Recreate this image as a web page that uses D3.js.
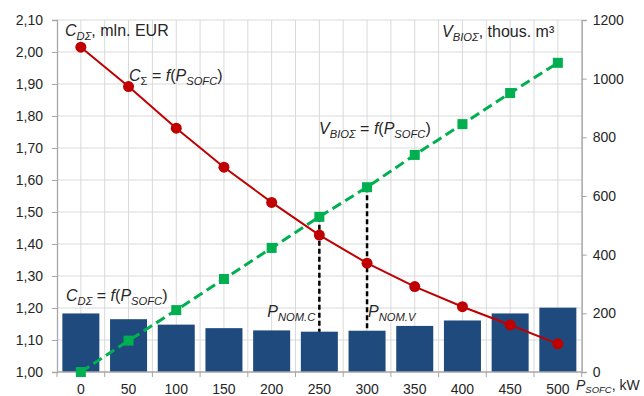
<!DOCTYPE html>
<html>
<head>
<meta charset="utf-8">
<script src="https://cdn.jsdelivr.net/npm/d3@7"></script>
<style>
  html, body { margin: 0; padding: 0; background: #fff; }
  svg { display: block; font-family: "Liberation Sans", Arial, sans-serif; }
</style>
</head>
<body>
<svg id="chart" width="644" height="396"></svg>
<script>
// SOFC power steps, kW
const powers = [0, 50, 100, 150, 200, 250, 300, 350, 400, 450, 500];
// Discounted cost C_DΣ, mln. EUR (bars)
const costD = [1.183, 1.165, 1.148, 1.137, 1.130, 1.126, 1.129, 1.144, 1.161, 1.183, 1.201];
// Total cost C_Σ, mln. EUR (red line)
const costTotal = [2.015, 1.892, 1.762, 1.640, 1.530, 1.428, 1.340, 1.267, 1.204, 1.147, 1.088];
// Biogas volume V_BIOΣ, thous. m³ (green dashed line)
const bioVolume = [0, 107, 211, 317, 423, 529, 630, 740, 845, 951, 1054];
// Nominal power points marked with drop lines
const nominal = [250, 300];
const nominalLabels = ["NOM.C", "NOM.V"];
// Axis ticks
const leftTicks = [1.0, 1.1, 1.2, 1.3, 1.4, 1.5, 1.6, 1.7, 1.8, 1.9, 2.0, 2.1];
const rightTicks = [0, 200, 400, 600, 800, 1000, 1200];

const W = 644, H = 396;
const m = { top: 20, right: 62.3, bottom: 24, left: 57 };
const svg = d3.select("#chart");

const x = d3.scaleBand().domain(powers).range([m.left, W - m.right])
  .paddingInner(0.224).paddingOuter(0.112);
const yL = d3.scaleLinear().domain([1.0, 2.1]).range([H - m.bottom, m.top]);
const yR = d3.scaleLinear().domain([0, 1200]).range([H - m.bottom, m.top]);
const cx = d => x(d) + x.bandwidth() / 2;
const half = x.step() / 2;

const textCol = "#262626";
const gridCol = "#d9d9d9";
const axisCol = "#a6a6a6";

// Grid: vertical lines at category centres and boundaries, horizontal at left ticks
const grid = svg.append("g");
const vGrid = [];
powers.forEach(p => { vGrid.push(cx(p)); vGrid.push(cx(p) + half); });
grid.selectAll("line.v").data(vGrid).join("line")
  .attr("x1", d => d).attr("x2", d => d)
  .attr("y1", yL(2.1)).attr("y2", yL(1.0))
  .attr("stroke", gridCol).attr("stroke-width", 1);
grid.selectAll("line.h").data(leftTicks.slice(1)).join("line")
  .attr("x1", m.left).attr("x2", W - m.right)
  .attr("y1", d => yL(d)).attr("y2", d => yL(d))
  .attr("stroke", gridCol).attr("stroke-width", 1);

// Bars
svg.append("g").selectAll("rect").data(powers).join("rect")
  .attr("x", d => x(d))
  .attr("width", x.bandwidth())
  .attr("y", (d, i) => yL(costD[i]))
  .attr("height", (d, i) => yL(1.0) - yL(costD[i]))
  .attr("fill", "#1f4a7e");

// Axes
const fmt = d => d3.format(".2f")(d).replace(".", ",");
const axL = svg.append("g").attr("transform", `translate(${m.left},0)`)
  .call(d3.axisLeft(yL).tickValues(leftTicks).tickFormat(fmt).tickSize(5).tickPadding(9));
const axR = svg.append("g").attr("transform", `translate(${W - m.right},0)`)
  .call(d3.axisRight(yR).tickValues(rightTicks).tickFormat(d3.format("d")).tickSize(5).tickPadding(6));
const axB = svg.append("g").attr("transform", `translate(0,${H - m.bottom})`)
  .call(d3.axisBottom(x).tickSize(0).tickPadding(12));
// x tick marks on category boundaries
const bTicks = [cx(powers[0]) - half].concat(powers.map(p => cx(p) + half));
axB.selectAll("line.bt").data(bTicks).join("line")
  .attr("class", "bt")
  .attr("x1", d => d).attr("x2", d => d).attr("y1", 0).attr("y2", 5)
  .attr("stroke", axisCol);

[axL, axR, axB].forEach(a => {
  a.select(".domain").attr("stroke", axisCol).attr("stroke-width", 1.3);
  a.selectAll(".tick line").attr("stroke", axisCol);
  a.selectAll(".tick text").attr("fill", textCol).attr("font-size", 14)
    .attr("font-family", '"Liberation Sans", Arial, sans-serif');
});
axB.select(".domain").attr("d", `M${m.left},0H${W - m.right}`);

// Drop lines at nominal powers
svg.append("g").selectAll("line").data(nominal).join("line")
  .attr("x1", d => cx(d)).attr("x2", d => cx(d))
  .attr("y1", d => yR(bioVolume[powers.indexOf(d)]))
  .attr("y2", d => yL(costD[powers.indexOf(d)]))
  .attr("stroke", "#000").attr("stroke-width", 2.5).attr("stroke-dasharray", "5,3");

// Biogas volume line (right axis)
svg.append("path").datum(powers)
  .attr("d", d3.line().x(d => cx(d)).y((d, i) => yR(bioVolume[i])))
  .attr("fill", "none").attr("stroke", "#00b050").attr("stroke-width", 3)
  .attr("stroke-dasharray", "10,5");
svg.append("g").selectAll("rect").data(powers).join("rect")
  .attr("x", d => cx(d) - 5).attr("y", (d, i) => yR(bioVolume[i]) - 5)
  .attr("width", 10).attr("height", 10).attr("fill", "#00b050");

// Total cost line (left axis)
svg.append("path").datum(powers)
  .attr("d", d3.line().x(d => cx(d)).y((d, i) => yL(costTotal[i])))
  .attr("fill", "none").attr("stroke", "#c00000").attr("stroke-width", 2);
svg.append("g").selectAll("circle").data(powers).join("circle")
  .attr("cx", d => cx(d)).attr("cy", (d, i) => yL(costTotal[i]))
  .attr("r", 5.5).attr("fill", "#c00000");

// Rich text with italic parts and subscripts
function rich(px, py, parts, size, subSize, shift) {
  size = size || 16;
  subSize = subSize || size * 0.7;
  shift = shift || 4;
  const t = svg.append("text").attr("x", px).attr("y", py)
    .attr("fill", textCol).attr("font-size", size);
  let shifted = false;
  parts.forEach(p => {
    const s = t.append("tspan").text(p.t);
    if (p.i) s.attr("font-style", "italic");
    if (p.sub && !shifted) { s.attr("dy", shift); shifted = true; }
    else if (!p.sub && shifted) { s.attr("dy", -shift); shifted = false; }
    if (p.sub) s.attr("font-size", subSize);
  });
  return t;
}

rich(65, 36, [{ t: "C", i: 1 }, { t: "DΣ", i: 1, sub: 1 }, { t: ", mln. EUR" }]);
rich(442, 37, [{ t: "V", i: 1 }, { t: "BIOΣ", i: 1, sub: 1 }, { t: ", thous. m³" }]);
rich(129, 81, [{ t: "C", i: 1 }, { t: "Σ", sub: 1 }, { t: " = " }, { t: "f", i: 1 }, { t: "(" },
  { t: "P", i: 1 }, { t: "SOFC", i: 1, sub: 1 }, { t: ")" }]);
rich(319, 134, [{ t: "V", i: 1 }, { t: "BIOΣ", i: 1, sub: 1 }, { t: " = " }, { t: "f", i: 1 }, { t: "(" },
  { t: "P", i: 1 }, { t: "SOFC", i: 1, sub: 1 }, { t: ")" }]);
rich(66, 301, [{ t: "C", i: 1 }, { t: "DΣ", i: 1, sub: 1 }, { t: " = " }, { t: "f", i: 1 }, { t: "(" },
  { t: "P", i: 1 }, { t: "SOFC", i: 1, sub: 1 }, { t: ")" }]);
nominal.forEach((p, k) => {
  rich(cx(p) - (k === 0 ? 52 : -1), 317, [{ t: "P", i: 1 }, { t: nominalLabels[k], i: 1, sub: 1 }]);
});
rich(576, 390, [{ t: "P", i: 1 }, { t: "SOFC", i: 1, sub: 1 }, { t: ", kW" }], 14, 9.5, 3);
</script>
</body>
</html>
